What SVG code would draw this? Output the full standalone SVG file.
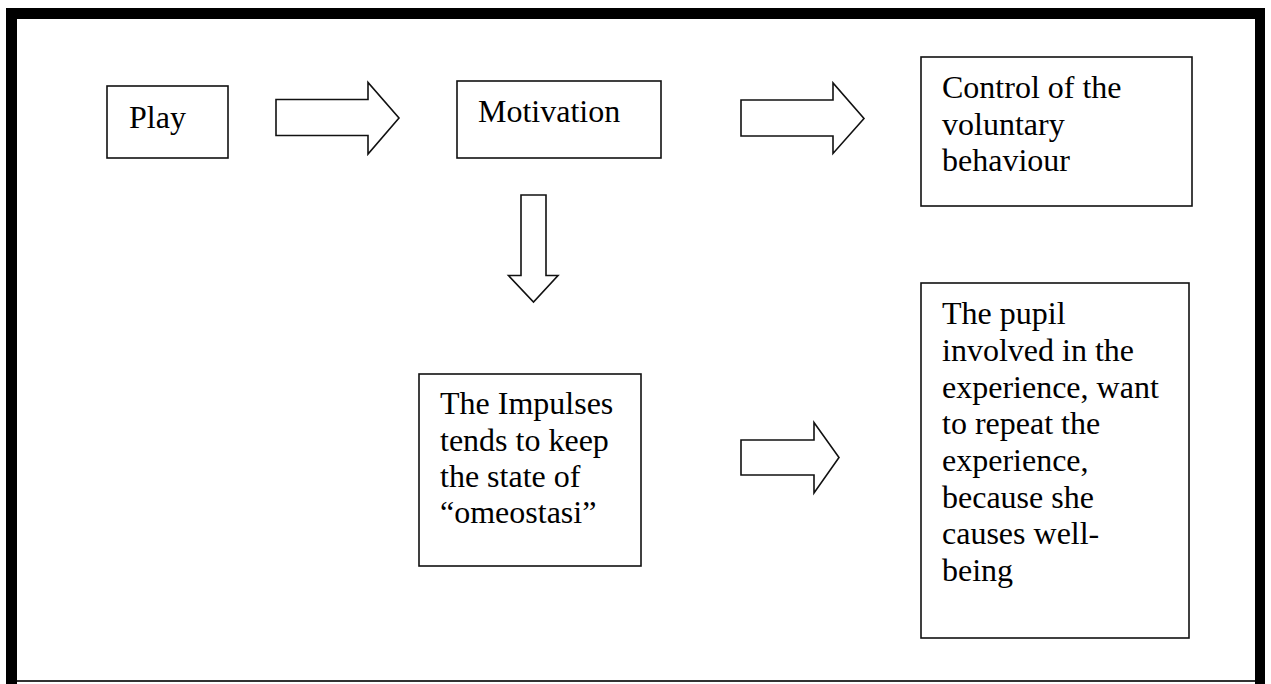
<svg xmlns="http://www.w3.org/2000/svg" width="1271" height="684" viewBox="0 0 1271 684">
  <style>
    .box { fill: #ffffff; stroke: #111111; stroke-width: 1.6; }
    .arrow { fill: #ffffff; stroke: #111111; stroke-width: 1.6; stroke-linejoin: miter; }
    .label { font-family: "Liberation Serif", "Times New Roman", serif; font-size: 32px; fill: #000000; }
  </style>

  <rect x="0" y="0" width="1271" height="684" fill="#ffffff"/>

  <!-- page frame: heavy top, left and right rules, thin bottom rule -->
  <g id="frame">
    <rect x="6" y="8" width="1259" height="11" fill="#000000"/>
    <rect x="6" y="8" width="11" height="676" fill="#000000"/>
    <rect x="1255" y="8" width="10" height="676" fill="#000000"/>
    <rect x="17" y="680" width="1238" height="2" fill="#333333"/>
  </g>

  <g id="play">
    <rect class="box" x="107" y="86" width="121" height="72"/>
    <text class="label" x="129" y="128">Play</text>
  </g>

  <g id="motivation">
    <rect class="box" x="457" y="81" width="204" height="77"/>
    <text class="label" x="478" y="122">Motivation</text>
  </g>

  <g id="control">
    <rect class="box" x="921" y="57" width="271" height="149"/>
    <text class="label" x="942" y="98">Control of the</text>
    <text class="label" x="942" y="134.5">voluntary</text>
    <text class="label" x="942" y="171">behaviour</text>
  </g>

  <g id="impulses">
    <rect class="box" x="419" y="374" width="222" height="192"/>
    <text class="label" x="440" y="414">The Impulses</text>
    <text class="label" x="440" y="450.5">tends to keep</text>
    <text class="label" x="440" y="487">the state of</text>
    <text class="label" x="440" y="523">“omeostasi”</text>
  </g>

  <g id="pupil">
    <rect class="box" x="921" y="283" width="268" height="355"/>
    <text class="label" x="942" y="324">The pupil</text>
    <text class="label" x="942" y="361">involved in the</text>
    <text class="label" x="942" y="397.5">experience, want</text>
    <text class="label" x="942" y="434">to repeat the</text>
    <text class="label" x="942" y="471">experience,</text>
    <text class="label" x="942" y="507.5">because she</text>
    <text class="label" x="942" y="544">causes well-</text>
    <text class="label" x="942" y="581">being</text>
  </g>

  <!-- block arrows between the boxes -->
  <g id="connectors">
    <polygon class="arrow" points="276,99.5 368,99.5 368,82.5 399,118 368,154 368,135.5 276,135.5"/>
    <polygon class="arrow" points="741,100 833,100 833,83 864,118.5 833,153.5 833,136 741,136"/>
    <polygon class="arrow" points="521,195 546,195 546,275.5 558,275.5 533.5,302 508.5,275.5 521,275.5"/>
    <polygon class="arrow" points="741,440 814,440 814,422.5 839,457.5 814,493 814,475 741,475"/>
  </g>
</svg>
